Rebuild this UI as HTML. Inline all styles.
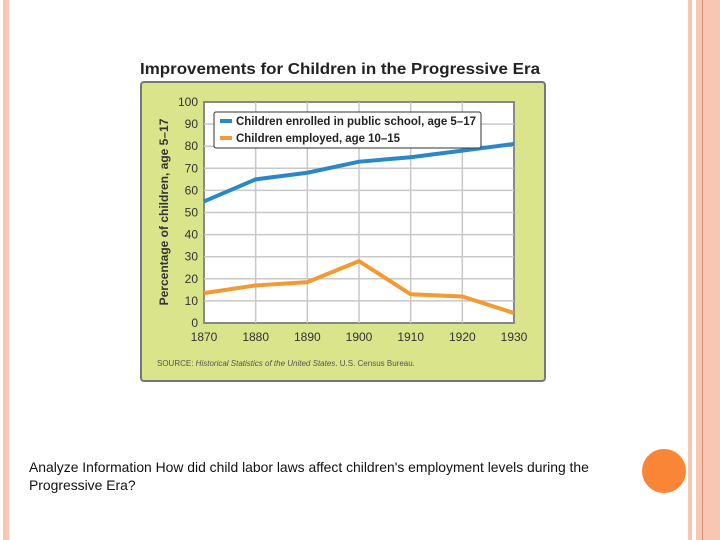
<!DOCTYPE html>
<html><head><meta charset="utf-8"><style>
body{margin:0;width:720px;height:540px;background:#fff;position:relative;overflow:hidden;font-family:"Liberation Sans",sans-serif}
.s{position:absolute;top:0;height:540px;background:#f9c6b4}
</style></head><body>
<div class="s" style="left:3px;width:6px"></div>
<div class="s" style="left:688px;width:4px"></div>
<div class="s" style="left:696px;width:24px"></div>
<div style="position:absolute;left:702px;top:0;width:1px;height:540px;background:#e0906f"></div>
<div style="position:absolute;left:642px;top:449px;width:44px;height:44px;border-radius:50%;background:#fb8536"></div>
<svg id="c" width="720" height="540" style="position:absolute;left:0;top:0">
<text x="140" y="74" font-size="16" font-weight="bold" fill="#222" textLength="400" lengthAdjust="spacingAndGlyphs">Improvements for Children in the Progressive Era</text>
<rect x="141" y="82" width="404" height="299" rx="3" fill="#d9e48b" stroke="#777" stroke-width="2"/>
<rect x="204" y="102" width="310" height="221" fill="#fff" stroke="#888" stroke-width="2"/>
<g id="grid"></g><g id="lines"></g><g id="labels"></g>
<text transform="translate(168,212) rotate(-90)" text-anchor="middle" font-size="12" font-weight="bold" fill="#333">Percentage of children, age 5–17</text>
<text x="157" y="366" font-size="8" fill="#555">SOURCE: <tspan font-style="italic">Historical Statistics of the United States</tspan>. U.S. Census Bureau.</text>
<rect x="214" y="112" width="267" height="36" rx="2" fill="#fff" stroke="#333" stroke-width="1"/>
<line x1="220" y1="121" x2="232" y2="121" stroke="#2b88c8" stroke-width="4"/>
<text x="236" y="125" font-size="12" font-weight="bold" fill="#222" textLength="240" lengthAdjust="spacingAndGlyphs">Children enrolled in public school, age 5–17</text>
<line x1="220" y1="138" x2="232" y2="138" stroke="#f29a33" stroke-width="4"/>
<text x="236" y="142" font-size="12" font-weight="bold" fill="#222" textLength="164" lengthAdjust="spacingAndGlyphs">Children employed, age 10–15</text>
</svg>
<div style="position:absolute;left:29px;top:458px;font-size:13.9px;line-height:18px;color:#111;width:580px">Analyze Information How did child labor laws affect children's employment levels during the Progressive Era?</div>
<script>
const years=[1870,1880,1890,1900,1910,1920,1930];
const school=[55,65,68,73,75,78,81];
const employed=[13.5,17,18.5,28,13,12,4.5];
const yTicks=[0,10,20,30,40,50,60,70,80,90,100];
const NS="http://www.w3.org/2000/svg";
const x=v=>204+(v-1870)/60*310, y=v=>323-v/100*221;
const g=document.getElementById('grid'),L=document.getElementById('lines'),T=document.getElementById('labels');
function mk(p,t,a){const e=document.createElementNS(NS,t);for(const k in a)e.setAttribute(k,a[k]);p.appendChild(e);return e;}
yTicks.forEach(v=>{
 if(v>0&&v<100){const l=mk(g,'line',{x1:204,x2:514,y1:y(v),y2:y(v),stroke:'#c8c8c8','stroke-width':1.5});
 
 }
 const t=mk(T,'text',{x:198,y:y(v)+4,'text-anchor':'end','font-size':12,fill:'#333'});t.textContent=v;
 
 
});
years.forEach(v=>{
 if(v>1870&&v<1930){const l=mk(g,'line',{x1:x(v),x2:x(v),y1:102,y2:323,stroke:'#c8c8c8','stroke-width':1.5});
 
 }
 const t=mk(T,'text',{x:x(v),y:341,'text-anchor':'middle','font-size':12,fill:'#333'});t.textContent=v;
 
 
});
function line(d,c,n){const p=mk(L,'polyline',{points:years.map((v,i)=>x(v)+','+y(d[i])).join(' '),fill:'none',stroke:c,'stroke-width':4});
 
 }
line(school,'#2b88c8','line-school-enrollment');
line(employed,'#f29a33','line-children-employed');
</script>
</body></html>
